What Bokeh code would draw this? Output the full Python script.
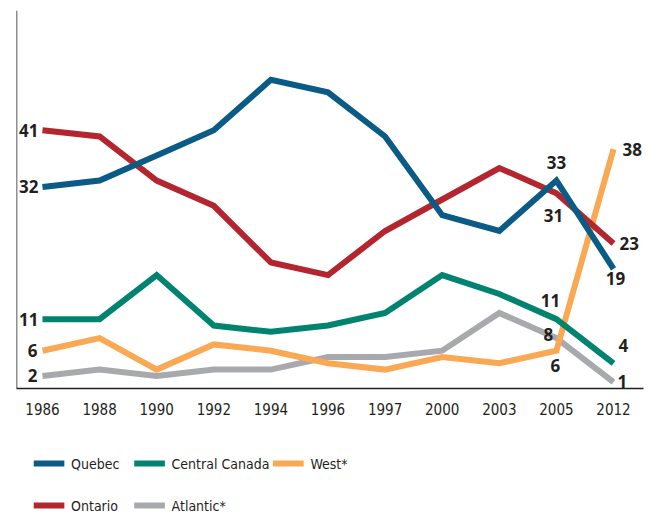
from bokeh.plotting import figure
from bokeh.models import Range1d, FixedTicker, Span
from bokeh.layouts import column
from bokeh.embed import file_html
from bokeh.resources import INLINE
from bokeh.core.properties import value

years = ["1986", "1988", "1990", "1992", "1994", "1996", "1997", "2000", "2003", "2005", "2012"]
quebec = [32, 33, 37, 41, 49, 47, 40, 27.5, 25, 33, 19]
ontario = [41, 40, 33, 29, 20, 18, 25, 30, 35, 31, 23]
central = [11, 11, 18, 10, 9, 10, 12, 18, 15, 11, 4]
west = [6, 8, 3, 7, 6, 4, 3, 5, 4, 6, 38]
atlantic = [2, 3, 2, 3, 3, 5, 5, 6, 12, 8, 1]

names = ["Quebec", "Ontario", "Central Canada", "West*", "Atlantic*"]
series = [quebec, ontario, central, west, atlantic]
colors = ["#0a5c86", "#b3262f", "#008470", "#f9a854", "#a7a9ac"]
draw_order = [4, 3, 2, 1, 0]

# labelled points: (series index, year index, dx, dy, align)
labels = [
    (0, 0, -4, 0, "right"), (1, 0, -4, 0, "right"), (2, 0, -4, 0, "right"),
    (3, 0, -5, 0, "right"), (4, 0, -5, 0, "right"),
    (0, 9, 0, -18, "center"), (1, 9, -3, 22, "center"), (2, 9, -6, -19, "center"),
    (4, 9, -8, -4, "center"), (3, 9, -1, 15, "center"),
    (3, 10, 9, 0, "left"), (1, 10, 6, 0, "left"), (0, 10, 2, 10, "center"),
    (2, 10, 5, -18, "left"), (4, 10, 4, -1, "left"),
]

TXT = "#231f20"
NARROW = "'DejaVu Sans Condensed', 'Roboto Condensed', 'Liberation Sans Narrow', Roboto"

p = figure(width=655, height=428, output_backend="svg", toolbar_location=None, title=None,
           x_range=Range1d(-0.455, 10.525), y_range=Range1d(0, 60),
           min_border_left=16, min_border_right=12, min_border_top=10, min_border_bottom=40)
p.outline_line_color = None
p.grid.visible = False
p.yaxis.visible = False
p.background_fill_color = None
p.border_fill_color = None

xs = list(range(len(years)))
for i in draw_order:
    p.line(xs, series[i], line_color=colors[i], line_width=6, line_join="miter")

for si, yi, dx, dy, al in labels:
    v = series[si][yi]
    p.text(x=[yi], y=[v], text=[str(int(round(v)))], x_offset=dx, y_offset=dy,
           text_align=al, text_baseline="middle", text_color=TXT,
           text_font=value("Open Sans"), text_font_style="bold", text_font_size="17px")

p.add_layout(Span(location=-0.455, dimension="height", line_color=TXT, line_width=1.5))

ax = p.xaxis[0]
ax.ticker = FixedTicker(ticks=xs)
ax.major_label_overrides = {i: y for i, y in enumerate(years)}
ax.major_tick_line_color = None
ax.minor_tick_line_color = None
ax.axis_line_color = TXT
ax.axis_line_width = 1.5
ax.major_label_standoff = 8
ax.major_label_text_font = NARROW
ax.major_label_text_font_size = "15px"
ax.major_label_text_color = TXT

# legend figure
lg = figure(width=655, height=88, output_backend="svg", toolbar_location=None, title=None,
            x_range=Range1d(0, 655), y_range=Range1d(88, 0),
            min_border=0)
lg.outline_line_color = None
lg.grid.visible = False
lg.axis.visible = False
lg.background_fill_color = None
lg.border_fill_color = None

col_x = [18, 123, 268]
row_y = [35, 77]
legend_pos = {0: (0, 0), 2: (1, 0), 3: (2, 0), 1: (0, 1), 4: (1, 1)}
for i, (c, r) in legend_pos.items():
    x0 = col_x[c]
    y0 = row_y[r]
    lg.segment(x0=[x0], y0=[y0], x1=[x0 + 32], y1=[y0], line_color=colors[i], line_width=6)
    lg.text(x=[x0 + 39], y=[y0], text=[names[i]], text_baseline="middle", text_align="left",
            text_color=TXT, text_font=value(NARROW), text_font_size="14px")

layout = column(p, lg, spacing=0)
open("out.html", "w").write(file_html(layout, INLINE))
